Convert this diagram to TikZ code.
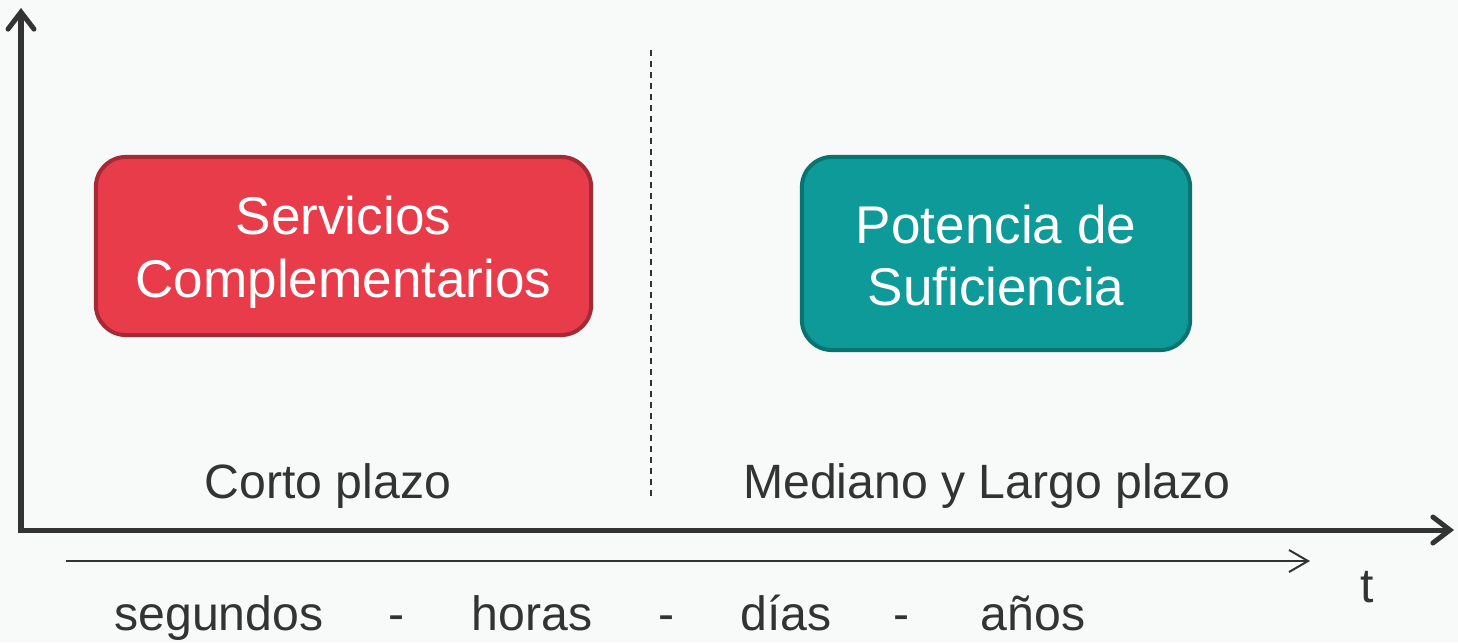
\documentclass[tikz,border=0pt]{standalone}
\usepackage{fontspec}
\setmainfont{Liberation Sans}
\usetikzlibrary{arrows.meta}

\definecolor{bgcol}{HTML}{F8F9F9}
\definecolor{inkcol}{HTML}{333333}
\definecolor{redfill}{HTML}{E83C4A}
\definecolor{redline}{HTML}{A62A35}
\definecolor{tealfill}{HTML}{0D9A98}
\definecolor{tealline}{HTML}{087470}

\tikzset{
    axisline/.style={line width=0.05cm, inkcol, line join=miter,
        {Straight Barb[length=0.17cm, width=0.26cm, line cap=round]}-{Straight Barb[length=0.17cm, width=0.26cm, line cap=round]}},
    timeline/.style={line width=0.02cm, inkcol, -{Straight Barb[length=0.19cm, width=0.22cm]}},
    servbox/.style={draw, rounded corners=0.3cm, line width=0.04cm, inner sep=0pt},
    boxtext/.style={text=white, align=center, inner sep=0pt, font=\fontsize{15.1}{17.9}\selectfont},
    plainlabel/.style={text=inkcol, anchor=base, inner sep=0pt, font=\fontsize{13.7}{16}\selectfont}
}

\begin{document}
\begin{tikzpicture}[x=0.01cm, y=-0.01cm]
    % Background
    \fill[bgcol] (0,0) rectangle (1458,642);
    \useasboundingbox (0,0) rectangle (1458,642);

    % Axes
    \coordinate (origin) at (21,530);
    \coordinate (ytip) at (21,8);
    \coordinate (xtip) at (1454,530);
    \draw[axisline] (ytip) -- (origin) -- (xtip);

    % Time arrow
    \coordinate (tstart) at (66,561);
    \coordinate (tend) at (1310,561);
    \draw[timeline] (tstart) -- (tend);
    \node[plainlabel] (tlabel) at (1367,602) {t};

    % Separation between the two horizons
    \coordinate (septop) at (651,50);
    \coordinate (sepbot) at (651,500);
    \draw[line width=0.02cm, inkcol, dash pattern=on 0.06cm off 0.05cm] (septop) -- (sepbot);

    % Boxes
    \node[servbox, fill=redfill, draw=redline, minimum width=4.95cm, minimum height=1.78cm]
        (servicios) at (343.5,246) {};
    \node[boxtext] (servtext) at (343.5,252) {Servicios\\Complementarios};
    \node[servbox, fill=tealfill, draw=tealline, minimum width=3.88cm, minimum height=1.93cm]
        (potencia) at (996,253.5) {};
    \node[boxtext] (pottext) at (996,255.5) {Potencia de\\Suficiencia};

    % Horizon labels
    \node[plainlabel] (corto) at (328,498) {Corto plazo};
    \node[plainlabel] (largo) at (987,498) {Mediano y Largo plazo};

    % Time scale
    \foreach \x/\word [count=\i] in {219/segundos, 397/-, 532/horas, 667/-, 786/días, 902/-, 1033/años} {
        \node[plainlabel] (scale\i) at (\x,630) {\word};
    }
\end{tikzpicture}
\end{document}
